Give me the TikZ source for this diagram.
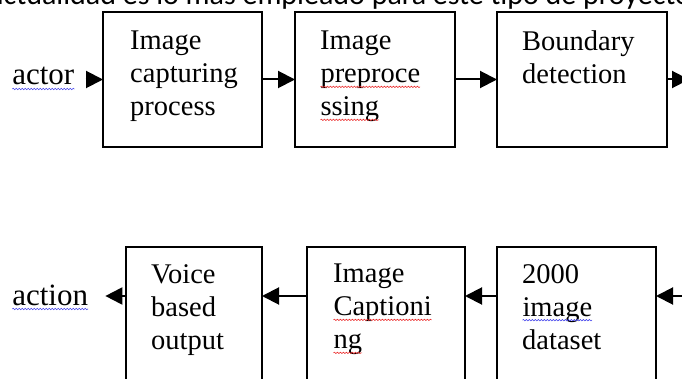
\documentclass[tikz,border=0pt]{standalone}
\usepackage{fontspec}
\setmainfont{Liberation Serif}
\newfontfamily\headfont{Carlito}
\usepackage{xcolor}
\usepackage{tikz}
\usetikzlibrary{positioning, arrows.meta, decorations.pathmorphing}

\definecolor{spellred}{RGB}{235,45,45}
\definecolor{spellblue}{RGB}{70,70,235}

% wavy spell-check marks under a word
\newcommand\spellmark[2]{\tikz[baseline=(w.base)]{%
    \node[inner sep=0pt, outer sep=0pt] (w) {#2};
    \draw[#1, line width=0.6pt, decorate,
      decoration={snake, amplitude=0.7pt, segment length=3pt}]
    ([yshift=-4pt]w.base west) -- ([yshift=-4pt]w.base east);}}
\newcommand\spellred[1]{\spellmark{spellred}{#1}}
\newcommand\spellblue[1]{\spellmark{spellblue}{#1}}

\begin{document}
\begin{tikzpicture}[x=1pt, y=-1pt,
      stage/.style={
          draw, rectangle, line width=2pt,
          inner sep=0pt, outer sep=0pt,
          minimum height=135pt, anchor=north west
        },
      boxtext/.style={
          anchor=north west, align=left, inner sep=0pt,
          font=\fontsize{28.5}{33}\selectfont
        },
      side/.style={inner sep=0pt, outer sep=0pt,
          font=\fontsize{31}{36}\selectfont},
      flow/.style={-{Triangle[length=17pt, width=17pt]}, line width=2pt}
    ]

    \useasboundingbox (0,0) rectangle (682,379);
    \clip (0,0) rectangle (682,379);

    % ── Clipped line of text above ──
    \node[anchor=base west, inner sep=0pt,
      font=\headfont\fontsize{30}{36}\selectfont] (heading) at (-11,5)
    {actualidad es lo más empleado para este tipo de proyecto};

    % ── Top row (left to right) ──
    \node[stage, minimum width=159pt] (capture) at (103,12) {};
    \node[stage, minimum width=160pt, right=33pt of capture] (preproc) {};
    \node[stage, minimum width=170pt, right=42pt of preproc] (boundary) {};

    \node[boxtext, below right=19pt and 27pt of capture.north west] (captureTxt)
    {Image\\capturing\\process};
    \node[boxtext, below right=19pt and 25pt of preproc.north west] (preprocTxt)
    {Image\\\spellred{preproce}\\\spellred{ssing}};
    \node[boxtext, below right=19pt and 25pt of boundary.north west] (boundaryTxt)
    {Boundary\\detection};

    \node[side, anchor=base west] (actor) at (12,85) {\spellblue{actor}};
    \coordinate (exitTop) at (689,79.5);

    \draw[flow, shorten <=11pt] (actor.east |- capture.west) -- (capture.west);
    \draw[flow] (capture) -- (preproc);
    \draw[flow] (preproc) -- (boundary);
    \draw[flow] (boundary.east) -- (exitTop);

    % ── Bottom row (right to left) ──
    \node[stage, minimum width=159pt] (dataset) at (497,247) {};
    \node[stage, minimum width=158pt, left=32pt of dataset] (caption) {};
    \node[stage, minimum width=136pt, left=45pt of caption] (voice) {};

    \node[boxtext, below right=17pt and 25pt of dataset.north west] (datasetTxt)
    {2000\\\spellblue{image}\\dataset};
    \node[boxtext, below right=17pt and 26pt of caption.north west] (captionTxt)
    {Image\\\spellred{Captioni}\\\spellred{ng}};
    \node[boxtext, below right=17pt and 25pt of voice.north west] (voiceTxt)
    {Voice\\based\\output};

    \node[side, anchor=base west] (action) at (12,305) {\spellblue{action}};
    \coordinate (entryBot) at (700,296);

    \draw[flow] (entryBot) -- ([yshift=-49pt]dataset.north east);
    \draw[flow] ([yshift=-49pt]dataset.north west) -- ([yshift=-49pt]caption.north east);
    \draw[flow] ([yshift=-49pt]caption.north west) -- ([yshift=-49pt]voice.north east);
    \draw[flow, shorten >=17pt] ([yshift=-49pt]voice.north west) -- (action.east |- entryBot);

  \end{tikzpicture}
\end{document}
